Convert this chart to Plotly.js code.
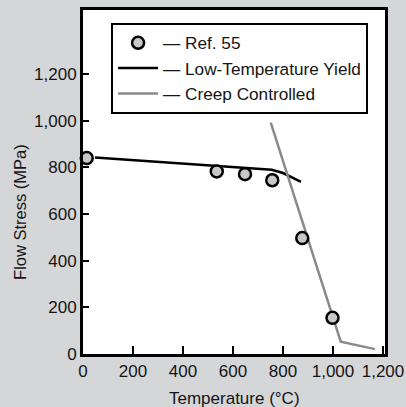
<!DOCTYPE html>
<html>
<head>
<meta charset="utf-8">
<script src="https://cdn.plot.ly/plotly-3.0.1.min.js"></script>
<style>html,body{margin:0;padding:0;background:#d5d6d8;}</style>
</head>
<body>
<div id="chart" style="width:406px;height:407px;"></div>
<script>
// Ref. 55 data points
const refTemp = [15, 535, 648, 757, 877, 998];
const refStress = [840, 783, 771, 745, 497, 155];
// Low-temperature yield line
const ltyTemp = [48, 755, 800, 872];
const ltyStress = [843, 790, 776, 738];
// Creep controlled line
const creepTemp = [751, 1031, 1168];
const creepStress = [992, 53, 21];

const xTicks = [0, 200, 400, 600, 800, 1000, 1200];
const xTickText = ['0', '200', '400', '600', '800', '1,000', '1,200'];
const yTicks = [0, 200, 400, 600, 800, 1000, 1200];
const yTickText = ['0', '200', '400', '600', '800', '1,000', '1,200'];

const xTitle = 'Temperature (°C)';
const yTitle = 'Flow Stress (MPa)';

const FONT = 'Liberation Sans, Arial, sans-serif';
const TXT = '#151515';

const ltyTrace = {
  x: ltyTemp, y: ltyStress, type: 'scatter', mode: 'lines',
  name: '— Low-Temperature Yield', legendrank: 2,
  line: {color: '#000', width: 2.5}
};
const creepTrace = {
  x: creepTemp, y: creepStress, type: 'scatter', mode: 'lines',
  name: '— Creep Controlled', legendrank: 3,
  line: {color: '#8a8a8a', width: 2.5}
};
const refTrace = {
  x: refTemp, y: refStress, type: 'scatter', mode: 'markers',
  name: '— Ref. 55', legendrank: 1,
  marker: {size: 12, color: '#c8c8c8', line: {color: '#000', width: 2.5}},
  cliponaxis: false
};

const layout = {
  width: 406, height: 407,
  margin: {l: 83, r: 21, t: 10, b: 53},
  paper_bgcolor: '#d5d6d8',
  plot_bgcolor: '#ffffff',
  font: {family: FONT, size: 17, color: TXT},
  showlegend: true,
  legend: {
    traceorder: 'normal',
    x: 0.093, y: 0.962, xanchor: 'left', yanchor: 'top',
    bgcolor: '#ffffff', bordercolor: '#000', borderwidth: 2,
    font: {family: FONT, size: 17.2, color: TXT},
    itemwidth: 40,
    tracegroupgap: 0
  },
  xaxis: {
    range: [0, 1208],
    tickvals: xTicks, ticktext: xTickText,
    ticks: 'inside', ticklen: 8, tickwidth: 2, tickcolor: '#000',
    showline: true, linecolor: '#000', linewidth: 3, mirror: true,
    showgrid: false, zeroline: false,
    tickfont: {family: FONT, size: 17, color: TXT}
  },
  yaxis: {
    range: [0, 1475],
    tickvals: yTicks, ticktext: yTickText,
    ticks: 'inside', ticklen: 6, tickwidth: 2, tickcolor: '#000',
    showline: true, linecolor: '#000', linewidth: 3, mirror: true,
    showgrid: false, zeroline: false,
    tickfont: {family: FONT, size: 17, color: TXT}
  },
  annotations: [
    {text: xTitle, xref: 'paper', yref: 'paper', x: 0.503, y: -0.128,
     xanchor: 'center', yanchor: 'middle', showarrow: false,
     font: {family: FONT, size: 17, color: TXT}},
    {text: yTitle, xref: 'paper', yref: 'paper', x: -0.2086, y: 0.413,
     xanchor: 'center', yanchor: 'middle', showarrow: false, textangle: -90,
     font: {family: FONT, size: 16.5, color: TXT}}
  ]
};

Plotly.newPlot('chart', [ltyTrace, creepTrace, refTrace], layout, {displayModeBar: false, staticPlot: true});
</script>
</body>
</html>
